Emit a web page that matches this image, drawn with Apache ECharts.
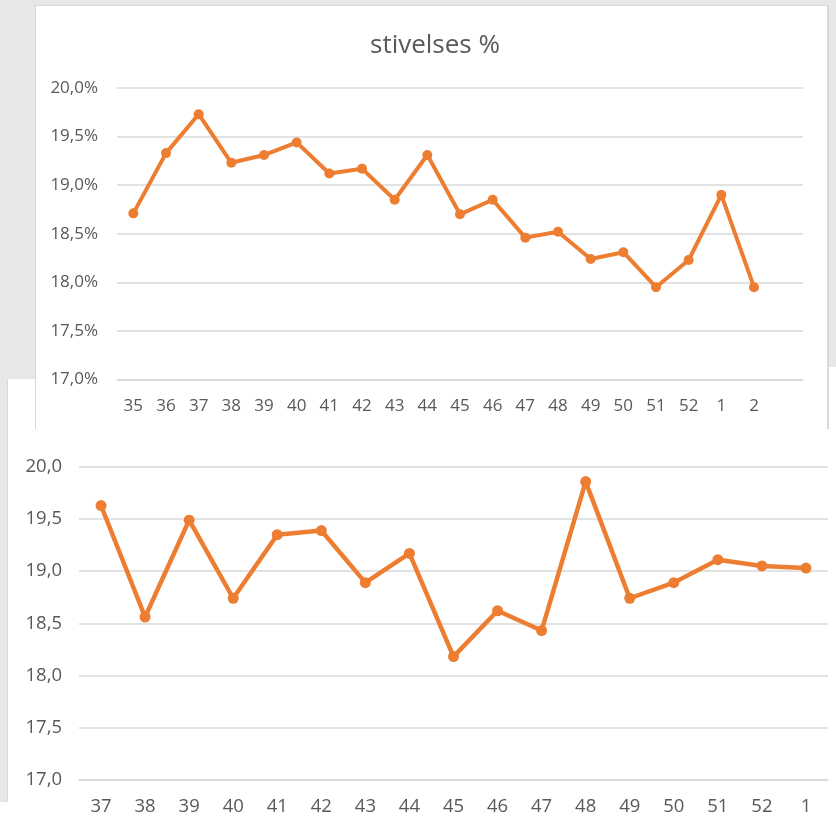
<!DOCTYPE html>
<html><head><meta charset="utf-8">
<script src="https://cdn.jsdelivr.net/npm/echarts@6/dist/echarts.min.js"></script>
<style>
html,body{margin:0;padding:0;background:#e7e7e7;width:836px;height:821px;overflow:hidden;position:relative}
.p{position:absolute;background:#fff;box-sizing:border-box}
#chart{position:absolute;left:0;top:0;width:836px;height:821px}
</style></head><body>
<div class="p" style="left:7px;top:379px;width:829px;height:442px;border-left:1px solid #d8d8d8"></div>
<div class="p" style="left:829px;top:367px;width:7px;height:20px"></div>
<div class="p" style="left:0;top:802px;width:8px;height:19px"></div>
<div class="p" style="left:35px;top:5px;width:794px;height:424px;border:1px solid #d8d8d8;border-bottom:none;border-right:2px solid #d8d8d8"></div>
<div id="chart"></div>
<script>
// Top chart: stivelses %
const topTitle = 'stivelses %';
const topWeeks = ['35','36','37','38','39','40','41','42','43','44','45','46','47','48','49','50','51','52','1','2',''];
const topValues = [18.71,19.33,19.73,19.23,19.31,19.44,19.12,19.17,18.85,19.31,18.70,18.85,18.46,18.52,18.24,18.31,17.95,18.23,18.90,17.95];
// Bottom chart
const bottomWeeks = ['37','38','39','40','41','42','43','44','45','46','47','48','49','50','51','52','1'];
const bottomValues = [19.63,18.56,19.49,18.74,19.35,19.39,18.89,19.17,18.18,18.62,18.43,19.86,18.74,18.89,19.11,19.05,19.03];
const yMin = 17, yMax = 20, yStep = 0.5;

const FONT = 'Open Sans';
const TXT = '#595959';
const ORANGE = '#ED7D31';
const GRID = '#d9d9d9';

const chart = echarts.init(document.getElementById('chart'), null, {renderer:'canvas'});
chart.setOption({
  backgroundColor: 'transparent',
  animation: false,
  title: {
    text: topTitle, left: 430, top: 28, textAlign: 'center',
    textStyle: {fontFamily: FONT, fontSize: 26, fontWeight: 'normal', color: TXT}
  },
  grid: [
    {left: 117, top: 88, width: 686, height: 291.5},
    {left: 79, top: 467, width: 749, height: 312.5}
  ],
  xAxis: [
    {type:'category', gridIndex:0, data: topWeeks, boundaryGap:true,
     axisLine:{show:true, lineStyle:{color:GRID, width:1.5}}, axisTick:{show:false},
     axisLabel:{fontFamily:FONT, fontSize:17, color:TXT, margin:18, interval:0}},
    {type:'category', gridIndex:1, data: bottomWeeks, boundaryGap:true,
     axisLine:{show:true, lineStyle:{color:GRID, width:1.5}}, axisTick:{show:false},
     axisLabel:{fontFamily:FONT, fontSize:18.5, color:TXT, margin:18, interval:0}}
  ],
  yAxis: [
    {type:'value', gridIndex:0, min:yMin, max:yMax, interval:yStep,
     axisLine:{show:false}, axisTick:{show:false},
     splitLine:{lineStyle:{color:GRID, width:1.5}},
     axisLabel:{fontFamily:FONT, fontSize:17, color:TXT, margin:19,
       formatter: v => v.toFixed(1).replace('.', ',') + '%'}},
    {type:'value', gridIndex:1, min:yMin, max:yMax, interval:yStep,
     axisLine:{show:false}, axisTick:{show:false},
     splitLine:{lineStyle:{color:GRID, width:1.5}},
     axisLabel:{fontFamily:FONT, fontSize:18.5, color:TXT, margin:17,
       formatter: v => v.toFixed(1).replace('.', ',')}}
  ],
  series: [
    {type:'line', xAxisIndex:0, yAxisIndex:0, data: topValues,
     symbol:'circle', symbolSize:10, lineStyle:{color:ORANGE, width:4},
     itemStyle:{color:ORANGE}},
    {type:'line', xAxisIndex:1, yAxisIndex:1, data: bottomValues,
     symbol:'circle', symbolSize:11, lineStyle:{color:ORANGE, width:4.5},
     itemStyle:{color:ORANGE}}
  ]
});
</script>
</body></html>
